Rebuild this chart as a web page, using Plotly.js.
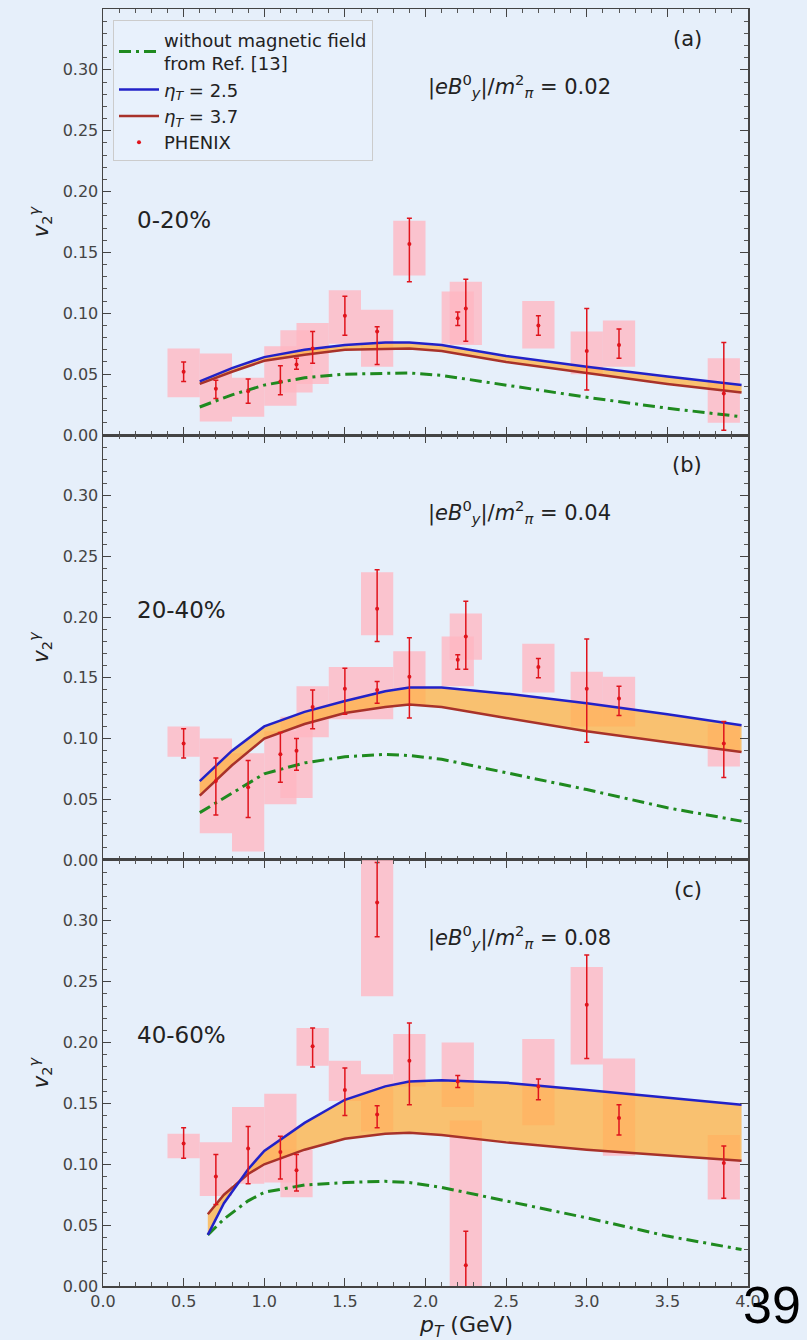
<!DOCTYPE html>
<html>
<head>
<meta charset="utf-8">
<script src="https://cdn.plot.ly/plotly-3.0.1.min.js"></script>
<style>html,body{margin:0;padding:0;background:#e6effa;}</style>
</head>
<body>
<div id="chart" style="width:807px;height:1340px;"></div>
<script>
// ---------------- DATA ----------------
// PHENIX data, panel (a) 0-20%
const pT_a   = [0.5,0.7,0.9,1.1,1.2,1.3,1.5,1.7,1.9,2.2,2.25,2.7,3.0,3.2,3.85];
const v2_a   = [0.052,0.038,0.036,0.044,0.058,0.071,0.098,0.085,0.157,0.096,0.104,0.090,0.069,0.074,0.034];
const errUp_a= [0.008,0.007,0.010,0.013,0.005,0.014,0.016,0.004,0.021,0.005,0.024,0.008,0.035,0.013,0.042];
const errDn_a= [0.008,0.008,0.010,0.011,0.004,0.012,0.016,0.027,0.031,0.006,0.027,0.008,0.032,0.011,0.030];
const sysLo_a= [0.031,0.011,0.015,0.024,0.035,0.042,0.075,0.056,0.131,0.075,0.074,0.071,0.050,0.056,0.010];
const sysHi_a= [0.071,0.067,0.047,0.073,0.086,0.092,0.119,0.103,0.176,0.118,0.126,0.110,0.085,0.094,0.063];

// panel (b) 20-40%
const pT_b   = [0.5,0.7,0.9,1.1,1.2,1.3,1.5,1.7,1.7,1.9,2.2,2.25,2.7,3.0,3.2,3.85];
const v2_b   = [0.096,0.065,0.060,0.087,0.090,0.126,0.141,0.207,0.140,0.151,0.165,0.184,0.159,0.141,0.133,0.096];
const errUp_b= [0.012,0.019,0.022,0.018,0.010,0.014,0.017,0.032,0.007,0.032,0.004,0.029,0.007,0.041,0.010,0.018];
const errDn_b= [0.012,0.028,0.025,0.023,0.016,0.018,0.021,0.027,0.011,0.034,0.008,0.027,0.009,0.044,0.014,0.028];
const sysLo_b= [0.085,0.022,0.007,0.046,0.051,0.101,0.116,0.185,0.116,0.127,0.143,0.165,0.138,0.110,0.110,0.077];
const sysHi_b= [0.110,0.100,0.088,0.106,0.118,0.143,0.159,0.237,0.159,0.172,0.184,0.203,0.178,0.155,0.151,0.112];

// panel (c) 40-60%
const pT_c   = [0.5,0.7,0.9,1.1,1.2,1.3,1.5,1.7,1.7,1.9,2.2,2.25,2.7,3.0,3.2,3.85];
const v2_c   = [0.117,0.090,0.113,0.110,0.095,0.197,0.161,0.315,0.141,0.185,0.168,0.017,0.164,0.231,0.138,0.101];
const errUp_c= [0.013,0.018,0.018,0.013,0.013,0.015,0.018,0.033,0.007,0.031,0.005,0.028,0.006,0.041,0.011,0.014];
const errDn_c= [0.012,0.023,0.029,0.022,0.017,0.017,0.021,0.028,0.011,0.036,0.005,0.027,0.011,0.044,0.014,0.029];
const sysLo_c= [0.105,0.074,0.084,0.085,0.073,0.181,0.152,0.238,0.127,0.164,0.147,-0.100,0.132,0.182,0.107,0.071];
const sysHi_c= [0.125,0.118,0.147,0.158,0.112,0.212,0.185,0.392,0.174,0.207,0.200,0.136,0.203,0.262,0.187,0.124];

// model curves
const curvePT_ab = [0.6,0.8,1.0,1.25,1.5,1.75,1.9,2.1,2.5,3.0,3.5,3.96];
const eta25_a = [0.044,0.055,0.064,0.070,0.074,0.076,0.076,0.074,0.065,0.056,0.048,0.041];
const eta37_a = [0.042,0.052,0.061,0.066,0.070,0.071,0.071,0.069,0.060,0.051,0.042,0.035];
const noB_a   = [0.023,0.033,0.041,0.047,0.050,0.051,0.051,0.049,0.041,0.031,0.022,0.015];

const eta25_b = [0.065,0.090,0.110,0.122,0.131,0.139,0.142,0.142,0.137,0.129,0.120,0.111];
const eta37_b = [0.053,0.078,0.100,0.112,0.121,0.126,0.128,0.126,0.117,0.106,0.097,0.089];
const noB_b   = [0.039,0.055,0.071,0.080,0.085,0.087,0.086,0.083,0.072,0.058,0.043,0.032];

const curvePT_c = [0.65,0.75,0.9,1.0,1.25,1.5,1.75,1.9,2.1,2.5,3.0,3.5,3.96];
const eta25_c = [0.042,0.068,0.096,0.111,0.134,0.153,0.164,0.168,0.169,0.167,0.161,0.155,0.149];
const eta37_c = [0.059,0.075,0.092,0.100,0.112,0.121,0.125,0.126,0.124,0.118,0.112,0.107,0.103];
const noB_c   = [0.042,0.055,0.070,0.077,0.083,0.085,0.086,0.085,0.081,0.070,0.056,0.041,0.030];

const centralities = ['0-20%','20-40%','40-60%'];
const fieldValues  = ['0.02','0.04','0.08'];
const panelLabels  = ['(a)','(b)','(c)'];
const xTicks = [0,0.5,1.0,1.5,2.0,2.5,3.0,3.5,4.0];
const yTicks = [0,0.05,0.10,0.15,0.20,0.25,0.30];

// ---------------- STYLE ----------------
const FONT = 'DejaVu Sans, sans-serif';
const BG = '#e6effa';
const BLUE = '#2222c8';
const BROWN = '#a8322a';
const GREEN = '#1f8a1f';
const RED = '#e0141c';
const BAND = 'rgba(255,178,66,0.75)';
const PINK = 'rgba(255,182,193,0.78)';

const panels = [
  {pT:pT_a,v:v2_a,up:errUp_a,dn:errDn_a,lo:sysLo_a,hi:sysHi_a,cpt:curvePT_ab,e25:eta25_a,e37:eta37_a,nob:noB_a},
  {pT:pT_b,v:v2_b,up:errUp_b,dn:errDn_b,lo:sysLo_b,hi:sysHi_b,cpt:curvePT_ab,e25:eta25_b,e37:eta37_b,nob:noB_b},
  {pT:pT_c,v:v2_c,up:errUp_c,dn:errDn_c,lo:sysLo_c,hi:sysHi_c,cpt:curvePT_c,e25:eta25_c,e37:eta37_c,nob:noB_c}
];

const traces = [];
const annotations = [];
panels.forEach((p, i) => {
  const xa = i === 0 ? 'x' : 'x' + (i + 1);
  const ya = i === 0 ? 'y' : 'y' + (i + 1);
  const first = i === 0;
  // systematic boxes
  traces.push({
    type:'bar', x:p.pT, base:p.lo, y:p.hi.map((h,k)=>h-p.lo[k]), width:0.2,
    marker:{color:PINK, line:{width:0}}, xaxis:xa, yaxis:ya, showlegend:false, hoverinfo:'skip'
  });
  // band: lower (eta 3.7), then upper filled to it
  traces.push({
    type:'scatter', mode:'lines', x:p.cpt, y:p.e37, line:{width:0, color:BROWN},
    xaxis:xa, yaxis:ya, showlegend:false, hoverinfo:'skip'
  });
  traces.push({
    type:'scatter', mode:'lines', x:p.cpt, y:p.e25, line:{width:0, color:BLUE},
    fill:'tonexty', fillcolor:BAND,
    xaxis:xa, yaxis:ya, showlegend:false, hoverinfo:'skip'
  });
  // green: without magnetic field
  traces.push({
    type:'scatter', mode:'lines', x:p.cpt, y:p.nob,
    line:{color:GREEN, width:3, dash:'12px,5px,3px,5px'},
    name:'without magnetic field<br>from Ref. [13]', legendrank:1,
    xaxis:xa, yaxis:ya, showlegend:first
  });
  traces.push({
    type:'scatter', mode:'lines', x:p.cpt, y:p.e37,
    line:{color:BROWN, width:2.5},
    name:'<i>η</i><sub><i>T</i></sub> = 3.7', legendrank:3,
    xaxis:xa, yaxis:ya, showlegend:first
  });
  traces.push({
    type:'scatter', mode:'lines', x:p.cpt, y:p.e25,
    line:{color:BLUE, width:2.5},
    name:'<i>η</i><sub><i>T</i></sub> = 2.5', legendrank:2,
    xaxis:xa, yaxis:ya, showlegend:first
  });
  traces.push({
    type:'scatter', mode:'markers', x:p.pT, y:p.v,
    marker:{color:RED, size:4},
    error_y:{type:'data', symmetric:false, array:p.up, arrayminus:p.dn, color:RED, thickness:1.5, width:2.5},
    name:'PHENIX', legendrank:4,
    xaxis:xa, yaxis:ya, showlegend:first
  });
  annotations.push({xref:xa, yref:ya, x:3.73, y:0.325, xanchor:'right', yanchor:'middle',
    text:panelLabels[i], showarrow:false, font:{family:FONT, size:21, color:'#222'}});
  annotations.push({xref:xa, yref:ya, x:2.0, y:0.287, xanchor:'left', yanchor:'middle',
    text:'|<i>eB</i><sup>0</sup><sub><i>y</i></sub>|/<i>m</i><sup>2</sup><sub><i>π</i></sub> = ' + fieldValues[i],
    showarrow:false, font:{family:FONT, size:21, color:'#222'}});
  annotations.push({xref:xa, yref:ya, x:0.2, y:(i===0?0.177:0.206), xanchor:'left', yanchor:'middle',
    text:centralities[i], showarrow:false, font:{family:FONT, size:23, color:'#222'}});
});

// x-axis title (as in the reference, slightly right of centre)
annotations.push({xref:'paper', yref:'paper', x:0.563, y:-0.0445, xanchor:'center', yanchor:'bottom',
  text:'<i>p</i><sub><i>T</i></sub> (GeV)', showarrow:false, font:{family:FONT, size:22, color:'#222'}});
// page number
annotations.push({xref:'paper', yref:'paper', x:1.037, y:-0.015, xanchor:'center', yanchor:'middle',
  text:'39', showarrow:false, font:{family:'Liberation Sans, Arial, sans-serif', size:52, color:'#000'}});

function xAxis(i) {
  return {
    range:[0,4], tickvals:xTicks, ticktext:xTicks.map(t=>t.toFixed(1)),
    ticks:'inside', ticklen:8, tickwidth:1.2, tickcolor:'#444',
    minor:{ticks:'inside', ticklen:4, dtick:0.1, tickcolor:'#555', tickwidth:1},
    mirror:'ticks', showline:true, linecolor:'#444', linewidth:1.5,
    showgrid:false, zeroline:false, showticklabels:i===2,
    tickfont:{family:FONT, size:16, color:'#444'},
    anchor: i===0?'y':'y'+(i+1)
  };
}
function yAxis(i, dom) {
  return {
    domain:dom, range:[0,0.35], tickvals:yTicks, ticktext:yTicks.map(t=>t.toFixed(2)),
    ticks:'inside', ticklen:8, tickwidth:1.2, tickcolor:'#444',
    minor:{ticks:'inside', ticklen:4, dtick:0.01, tickcolor:'#555', tickwidth:1},
    mirror:'ticks', showline:true, linecolor:'#444', linewidth:1.5,
    showgrid:false, zeroline:false,
    tickfont:{family:FONT, size:16, color:'#444'},
    anchor: i===0?'x':'x'+(i+1),
    title:{text:'<i>v</i><sub>2</sub><sup><i>γ</i></sup>', font:{family:FONT, size:21, color:'#222'}, standoff:8}
  };
}

const layout = {
  width:807, height:1340,
  margin:{l:103, r:59, t:9, b:54},
  paper_bgcolor:BG, plot_bgcolor:BG,
  barmode:'overlay',
  font:{family:FONT, color:'#222'},
  xaxis:xAxis(0), xaxis2:xAxis(1), xaxis3:xAxis(2),
  yaxis:yAxis(0,[0.6664,1]), yaxis2:yAxis(1,[0.3336,0.6664]), yaxis3:yAxis(2,[0,0.3336]),
  legend:{x:0.0155, y:0.991, xanchor:'left', yanchor:'top', traceorder:'normal',
    bgcolor:'rgba(232,241,251,0.85)', bordercolor:'#cccccc', borderwidth:1,
    font:{family:FONT, size:18, color:'#222'}, itemwidth:40, tracegroupgap:0},
  annotations:annotations,
  showlegend:true
};

Plotly.newPlot('chart', traces, layout, {displayModeBar:false, staticPlot:true});
</script>
</body>
</html>
